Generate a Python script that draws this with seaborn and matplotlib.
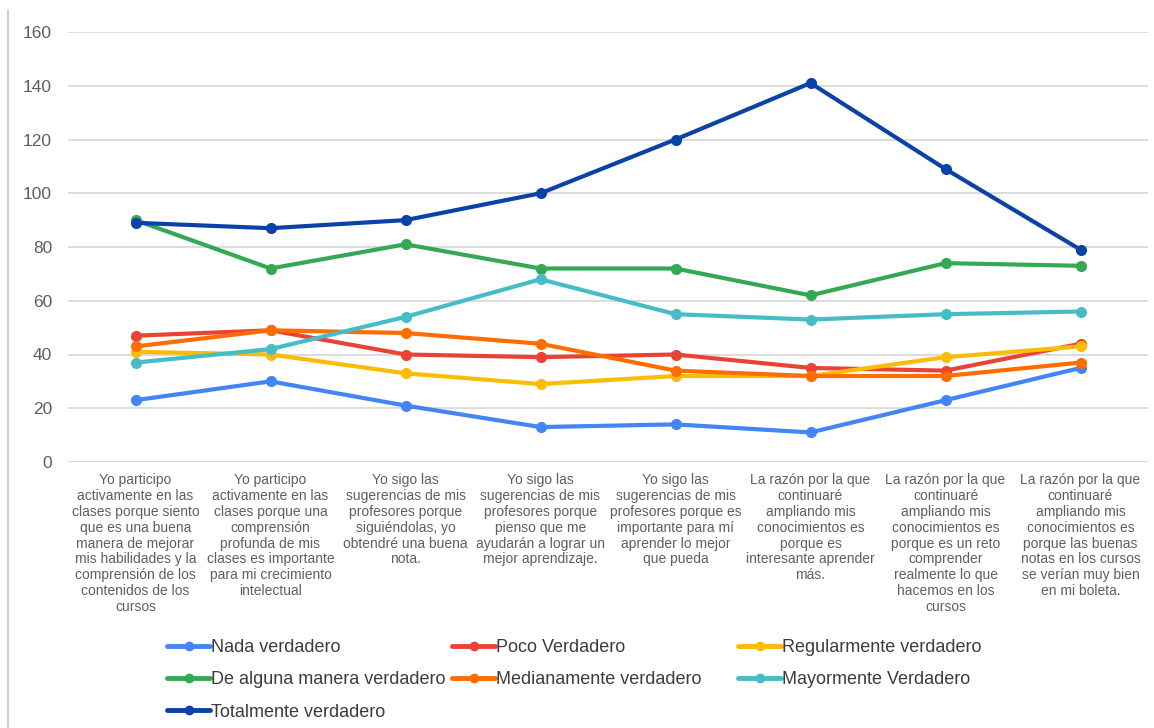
import pandas as pd
import matplotlib
matplotlib.use('Agg')
import matplotlib.pyplot as plt
import seaborn as sns
from matplotlib.lines import Line2D

sns.set_theme(style='white')
plt.rcParams['font.family'] = ['Liberation Sans', 'DejaVu Sans']

# categories (x axis), wrapped as in the original chart
categories = [
    'Yo participo\nactivamente en las\nclases porque siento\nque es una buena\nmanera de mejorar\nmis habilidades y la\ncomprensión de los\ncontenidos de los\ncursos',
    'Yo participo\nactivamente en las\nclases porque una\ncomprensión\nprofunda de mis\nclases es importante\npara mi crecimiento\nintelectual',
    'Yo sigo las\nsugerencias de mis\nprofesores porque\nsiguiéndolas, yo\nobtendré una buena\nnota.',
    'Yo sigo las\nsugerencias de mis\nprofesores porque\npienso que me\nayudarán a lograr un\nmejor aprendizaje.',
    'Yo sigo las\nsugerencias de mis\nprofesores porque es\nimportante para mí\naprender lo mejor\nque pueda',
    'La razón por la que\ncontinuaré\nampliando mis\nconocimientos es\nporque es\ninteresante aprender\nmás.',
    'La razón por la que\ncontinuaré\nampliando mis\nconocimientos es\nporque es un reto\ncomprender\nrealmente lo que\nhacemos en los\ncursos',
    'La razón por la que\ncontinuaré\nampliando mis\nconocimientos es\nporque las buenas\nnotas en los cursos\nse verían muy bien\nen mi boleta.',
]

nada = [23, 30, 21, 13, 14, 11, 23, 35]
poco = [47, 49, 40, 39, 40, 35, 34, 44]
regular = [41, 40, 33, 29, 32, 32, 39, 43]
alguna = [90, 72, 81, 72, 72, 62, 74, 73]
mediana = [43, 49, 48, 44, 34, 32, 32, 37]
mayormente = [37, 42, 54, 68, 55, 53, 55, 56]
totalmente = [89, 87, 90, 100, 120, 141, 109, 79]

series_names = ['Nada verdadero', 'Poco Verdadero', 'Regularmente verdadero',
                'De alguna manera verdadero', 'Medianamente verdadero',
                'Mayormente Verdadero', 'Totalmente verdadero']
series_vals = [nada, poco, regular, alguna, mediana, mayormente, totalmente]
colors = ['#4285F4', '#EA4335', '#FBBC04', '#34A853', '#FF6D01', '#46BDC6', '#0B42A8']

rows = []
for name, vals in zip(series_names, series_vals):
    for i, v in enumerate(vals):
        rows.append({'pos': i, 'valor': v, 'serie': name})
df = pd.DataFrame(rows)

fig = plt.figure(figsize=(11.54, 7.28), dpi=100)
ax = fig.add_axes([68 / 1154, 1 - 462 / 728, 1080 / 1154, 430 / 728])

sns.lineplot(data=df, x='pos', y='valor', hue='serie', hue_order=series_names,
             palette=colors, marker='o', markersize=8, markeredgewidth=0,
             linewidth=3, sort=False, legend=False, ax=ax)

ax.set_xlim(-0.5, len(categories) - 0.5)
ax.set_ylim(0, 160)
ax.set_yticks(range(0, 161, 20))
ax.set_xticks(range(len(categories)))
ax.set_xticklabels(categories, fontsize=10, color='#5f5f5f', linespacing=1.17, va='top')
ax.tick_params(axis='y', labelsize=12.5, colors='#5f5f5f', length=0, pad=11.5)
ax.tick_params(axis='x', length=0, pad=8)
ax.set_xlabel('')
ax.set_ylabel('')
ax.grid(axis='y', color='#d9d9d9', linewidth=1.3)
ax.set_axisbelow(True)
for s in ax.spines.values():
    s.set_visible(False)

# legend: three fixed-width columns, filled row by row
handles = [Line2D([0], [0], color=c, lw=3.5, marker='o', markersize=7, markeredgewidth=0)
           for c in colors]
col_x = [167, 452, 738]
col_items = [[0, 3, 6], [1, 4], [2, 5]]
for x0, items in zip(col_x, col_items):
    leg = fig.legend([handles[i] for i in items], [series_names[i] for i in items],
                     loc='upper left', bbox_to_anchor=(x0 / 1154, 1 - 639 / 728),
                     frameon=False, fontsize=13, handlelength=2.4, handletextpad=0.05,
                     labelspacing=0.85, borderpad=0, borderaxespad=0,
                     labelcolor='#3c3c3c')

# thin frame line at the left edge
fig.add_artist(Line2D([8 / 1154, 8 / 1154], [0, 1 - 10 / 728],
                      transform=fig.transFigure, color='#d0d0d0', lw=1.5))

fig.savefig('out.png', dpi=100)
